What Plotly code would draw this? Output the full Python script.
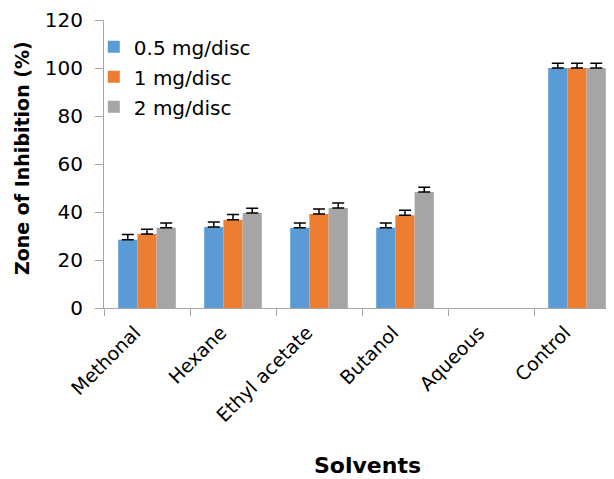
import plotly.graph_objects as go

categories = ["Methonal", "Hexane", "Ethyl acetate", "Butanol", "Aqueous", "Control"]
series_names = ["0.5 mg/disc", "1 mg/disc", "2 mg/disc"]
vals_05 = [28.4, 33.8, 33.4, 33.4, None, 100]
vals_1 = [30.8, 36.8, 39.2, 38.6, None, 100]
vals_2 = [33.4, 39.6, 41.7, 48.3, None, 100]
err_05 = [2.2, 2.0, 2.0, 2.0, None, 2.0]
err_1 = [2.0, 2.2, 2.0, 2.1, None, 2.0]
err_2 = [2.0, 2.0, 2.0, 2.0, None, 2.0]
colors = ["#5b9bd5", "#ed7d31", "#a5a5a5"]

fig = go.Figure()
for i, (name, v, e) in enumerate(zip(series_names, [vals_05, vals_1, vals_2], [err_05, err_1, err_2])):
    fig.add_trace(go.Bar(
        x=categories, y=v, name=name, legendgroup=name,
        marker=dict(color=colors[i], line=dict(width=0)),
        error_y=dict(type="data", array=e, arrayminus=[0 if x is not None else None for x in e],
                     symmetric=False, color="black", thickness=1.5, width=6),
    ))

fig.update_layout(
    width=606, height=471,
    margin=dict(l=96, r=0, t=10, b=171),
    plot_bgcolor="white", paper_bgcolor="white",
    barmode="group", bargap=0.33, bargroupgap=0,
    font=dict(family="DejaVu Sans", color="black"),
    showlegend=True,
    legend=dict(x=-0.02, y=0.975, xanchor="left", yanchor="top",
                font=dict(size=20, family="DejaVu Sans"), tracegroupgap=1,
                bgcolor="rgba(0,0,0,0)", itemwidth=30),
    xaxis=dict(range=[-0.5, 5.43], showline=True, linecolor="#a6a6a6", linewidth=1,
               ticks="outside", tickson="boundaries", ticklen=7, tickcolor="#a6a6a6",
               tickangle=-45, tickfont=dict(size=19, family="DejaVu Sans"),
               ticklabelstandoff=5, ticklabelshift=-12,
               showgrid=False, zeroline=False),
    yaxis=dict(range=[0, 120], dtick=20, showline=True, linecolor="#a6a6a6", linewidth=1,
               ticks="outside", ticklen=8, tickcolor="#a6a6a6",
               tickfont=dict(size=20, family="DejaVu Sans"),
               ticklabelstandoff=8, ticklabeloverflow="allow",
               showgrid=False, zeroline=False),
    annotations=[
        dict(text="<b>Zone of Inhibition (%)</b>", xref="paper", yref="paper",
             x=(22 - 104) / 510, y=(308 - 157) / 290, xanchor="center", yanchor="middle",
             textangle=-90, showarrow=False, font=dict(size=19, family="DejaVu Sans")),
        dict(text="<b>Solvents</b>", xref="paper", yref="paper",
             x=(367 - 104) / 510, y=(308 - 467) / 290, xanchor="center", yanchor="middle",
             showarrow=False, font=dict(size=22, family="DejaVu Sans")),
    ],
)

fig.write_html("out.html")
